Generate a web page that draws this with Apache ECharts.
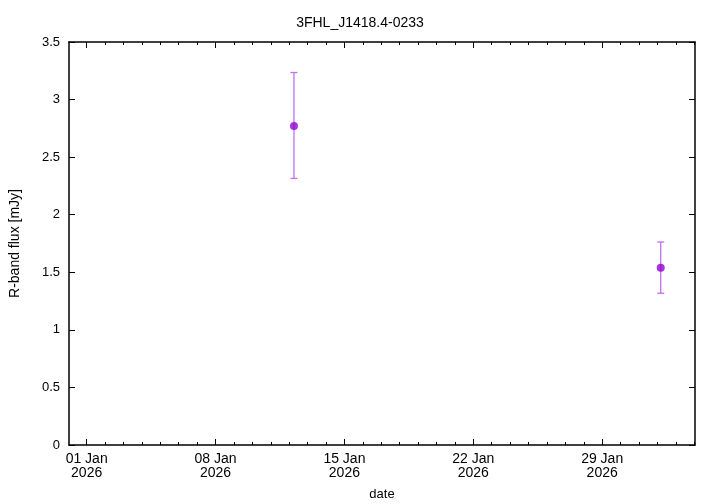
<!DOCTYPE html>
<html><head><meta charset="utf-8">
<script src="https://cdn.jsdelivr.net/npm/echarts@6/dist/echarts.min.js"></script>
<style>html,body{margin:0;padding:0;background:#fff}#c{width:720px;height:504px}</style>
</head><body><div id="c"></div>
<script>
// ---- data ----
const obsDates = ['2026-01-12T06:15:00Z', '2026-02-01T04:20:00Z'];
const fluxValues = [2.77, 1.54];
const fluxLow = [2.315, 1.318];
const fluxHigh = [3.235, 1.763];
const majorTickDates = ['2026-01-01', '2026-01-08', '2026-01-15', '2026-01-22', '2026-01-29'];
const xRange = ['2025-12-31T01:00:00Z', '2026-02-03T01:00:00Z'];
const yTickValues = [0, 0.5, 1, 1.5, 2, 2.5, 3, 3.5];
const titleText = '3FHL_J1418.4-0233';
const xName = 'date';
const yName = 'R-band flux [mJy]';

const DAY = 86400000;
const t = s => Date.parse(s.length === 10 ? s + 'T00:00:00Z' : s);
const xMin = t(xRange[0]), xMax = t(xRange[1]);
const majorTicks = majorTickDates.map(t);
const minorTicks = [];
for (let v = t('2026-01-01'); v <= xMax; v += DAY) minorTicks.push(v);
for (let v = t('2026-01-01') - DAY; v >= xMin; v -= DAY) minorTicks.push(v);

const MON = ['Jan','Feb','Mar','Apr','May','Jun','Jul','Aug','Sep','Oct','Nov','Dec'];
function fmtDate(v) {
  const d = new Date(v);
  const dd = String(d.getUTCDate()).padStart(2, '0');
  return dd + ' ' + MON[d.getUTCMonth()] + '\n' + d.getUTCFullYear();
}

const pts = obsDates.map((d, i) => [t(d), fluxValues[i], fluxLow[i], fluxHigh[i]]);
const FONT = 'Liberation Sans, Arial, sans-serif';
const axisLine = { show: true, lineStyle: { color: '#000', width: 1.5 } };

const chart = echarts.init(document.getElementById('c'), null, { renderer: 'canvas' });
chart.setOption({
  animation: false,
  backgroundColor: '#fff',
  title: {
    text: titleText, left: 'center', top: 11,
    textStyle: { fontFamily: FONT, fontSize: 14, fontWeight: 'normal', color: '#000' }
  },
  grid: { left: 69, right: 25, top: 42, bottom: 59, containLabel: false, outerBoundsMode: 'none' },
  xAxis: [
    { type: 'value', position: 'bottom', min: xMin, max: xMax, splitLine: { show: false },
      axisLine,
      axisTick: { show: true, inside: true, length: 6, customValues: majorTicks, lineStyle: { color: '#000', width: 1 } },
      axisLabel: { show: true, customValues: majorTicks, formatter: fmtDate, color: '#000',
        fontFamily: FONT, fontSize: 14, lineHeight: 14, margin: 7 },
      name: xName, nameLocation: 'middle', nameGap: 43,
      nameTextStyle: { fontFamily: FONT, fontSize: 13, color: '#000' } },
    { type: 'value', position: 'bottom', min: xMin, max: xMax, splitLine: { show: false },
      axisLine: { show: false },
      axisTick: { show: true, inside: true, length: 3, customValues: minorTicks, lineStyle: { color: '#000', width: 1 } },
      axisLabel: { show: false } },
    { type: 'value', position: 'top', min: xMin, max: xMax, splitLine: { show: false },
      axisLine,
      axisTick: { show: true, inside: true, length: 6, customValues: majorTicks, lineStyle: { color: '#000', width: 1 } },
      axisLabel: { show: false } },
    { type: 'value', position: 'top', min: xMin, max: xMax, splitLine: { show: false },
      axisLine: { show: false },
      axisTick: { show: true, inside: true, length: 3, customValues: minorTicks, lineStyle: { color: '#000', width: 1 } },
      axisLabel: { show: false } }
  ],
  yAxis: [
    { type: 'value', position: 'left', min: 0, max: 3.5, splitLine: { show: false },
      axisLine,
      axisTick: { show: true, inside: true, length: 6, customValues: yTickValues, lineStyle: { color: '#000', width: 1 } },
      axisLabel: { customValues: yTickValues, color: '#000', fontFamily: FONT, fontSize: 13, margin: 9 },
      name: yName, nameLocation: 'middle', nameGap: 47, nameRotate: 90,
      nameTextStyle: { fontFamily: FONT, fontSize: 14, color: '#000' } },
    { type: 'value', position: 'right', min: 0, max: 3.5, splitLine: { show: false },
      axisLine,
      axisTick: { show: true, inside: true, length: 6, customValues: yTickValues, lineStyle: { color: '#000', width: 1 } },
      axisLabel: { show: false } }
  ],
  series: [
    { type: 'custom', xAxisIndex: 0, yAxisIndex: 0, data: pts, z: 2,
      encode: { x: 0, y: [1, 2, 3] },
      renderItem: function (params, api) {
        const x = api.value(0);
        const lo = api.coord([x, api.value(2)]);
        const hi = api.coord([x, api.value(3)]);
        const hw = 3.5;
        const st = { stroke: '#c070f0', lineWidth: 1.3 };
        return { type: 'group', children: [
          { type: 'line', shape: { x1: lo[0], y1: lo[1], x2: hi[0], y2: hi[1] }, style: st },
          { type: 'line', shape: { x1: lo[0] - hw, y1: lo[1], x2: lo[0] + hw, y2: lo[1] }, style: st },
          { type: 'line', shape: { x1: hi[0] - hw, y1: hi[1], x2: hi[0] + hw, y2: hi[1] }, style: st }
        ]};
      } },
    { type: 'scatter', xAxisIndex: 0, yAxisIndex: 0, z: 3,
      data: pts.map(p => [p[0], p[1]]), symbol: 'circle', symbolSize: 8,
      itemStyle: { color: '#9400d3' } }
  ]
});
</script></body></html>
